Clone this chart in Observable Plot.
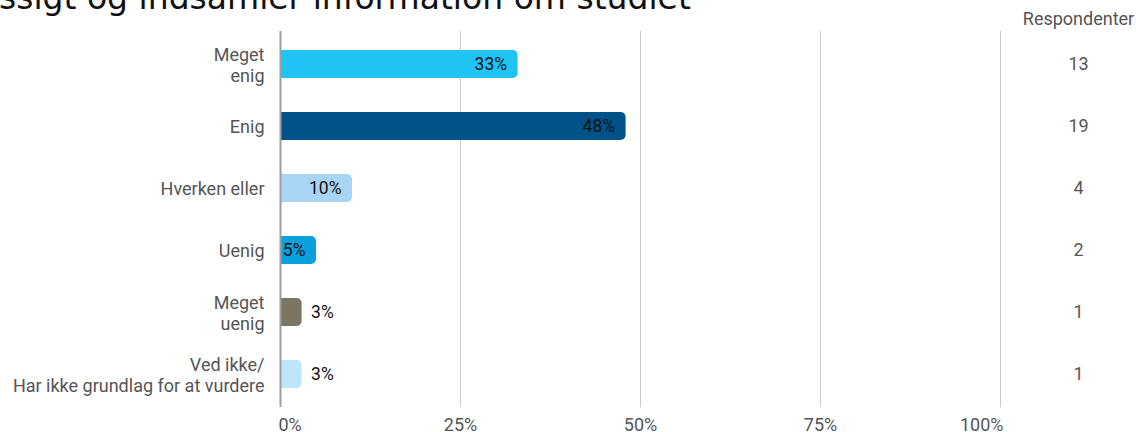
<!DOCTYPE html>
<html>
<head>
<meta charset="utf-8">
<script src="https://cdn.jsdelivr.net/npm/d3@7"></script>
<script src="https://cdn.jsdelivr.net/npm/@observablehq/plot@0.6"></script>
<style>
  html, body { margin: 0; padding: 0; background: #fff; overflow: hidden; }
  #wrap { position: relative; width: 1136px; height: 432px; overflow: hidden; }
  #title { position: absolute; left: -1px; top: -19px; font-family: "DejaVu Sans", sans-serif; font-size: 33px; line-height: 33px; white-space: nowrap; color: #111; }
  #chart { position: absolute; left: 0; top: 0; }
</style>
</head>
<body>
<div id="wrap">
  <div id="chart"></div>
  <div id="title">ssigt og indsamler information om studiet</div>
</div>
<script>
const categories = ["Meget\nenig", "Enig", "Hverken eller", "Uenig", "Meget\nuenig", "Ved ikke/\nHar ikke grundlag for at vurdere"];
const shares = [0.33, 0.48, 0.10, 0.05, 0.03, 0.03];
const respondents = [13, 19, 4, 2, 1, 1];
const colors = ["#1FC4F4", "#005288", "#A9D5F5", "#0A9FDD", "#7A7662", "#BEE6FA"];
const xTicks = [0, 0.25, 0.5, 0.75, 1];
const columnHeader = "Respondenter";

const rows = categories.map((c, i) => ({cat: c, share: shares[i], n: respondents[i], color: colors[i]}));
const pct = d => `${Math.round(d.share * 100)}%`;
const tickLabel = d => `${Math.round(d * 100)}%`;

const chart = Plot.plot({
  width: 1136,
  height: 432,
  marginLeft: 280,
  marginRight: 136,
  marginTop: 31,
  marginBottom: 25,
  style: {fontFamily: "Roboto, sans-serif", fontSize: "18px", background: "transparent"},
  x: {domain: [0, 1], axis: null},
  y: {domain: categories, paddingInner: 0.55, paddingOuter: 0.275, axis: null},
  marks: [
    Plot.ruleX(xTicks.filter(t => t > 0), {stroke: "#c8c8c8", strokeWidth: 1}),
    Plot.barX(rows, {x: "share", y: "cat", fill: "color", rx: 5, insetLeft: -12, clip: true}),
    Plot.ruleX([0], {stroke: "#9e9e9e", strokeWidth: 2}),
    Plot.axisY({label: null, tickSize: 0, tickPadding: 16, lineHeight: 1.2, fill: "#555", fontSize: 18, textAnchor: "end"}),
    Plot.text(rows.filter(d => d.share >= 0.05), {x: "share", y: "cat", text: pct, textAnchor: "end", dx: -11, fill: "#111", fontSize: 17.5}),
    Plot.text(rows.filter(d => d.share < 0.05), {x: "share", y: "cat", text: pct, textAnchor: "start", dx: 9, fill: "#111", fontSize: 17.5}),
    Plot.text(rows, {y: "cat", text: "n", frameAnchor: "right", textAnchor: "middle", dx: 78, fill: "#555", fontSize: 18}),
    Plot.text([columnHeader], {frameAnchor: "top-right", textAnchor: "middle", lineAnchor: "middle", dx: 78, dy: -12, fill: "#555", fontSize: 18}),
    Plot.text(xTicks.filter(t => t === 0), {x: d => d, frameAnchor: "bottom", lineAnchor: "middle", text: tickLabel, textAnchor: "start", dx: -2, dy: 18, fill: "#555", fontSize: 18}),
    Plot.text(xTicks.filter(t => t > 0 && t < 1), {x: d => d, frameAnchor: "bottom", lineAnchor: "middle", text: tickLabel, dy: 18, fill: "#555", fontSize: 18}),
    Plot.text(xTicks.filter(t => t === 1), {x: d => d, frameAnchor: "bottom", lineAnchor: "middle", text: tickLabel, textAnchor: "end", dx: 3, dy: 18, fill: "#555", fontSize: 18})
  ]
});
document.getElementById("chart").appendChild(chart);
</script>
</body>
</html>
